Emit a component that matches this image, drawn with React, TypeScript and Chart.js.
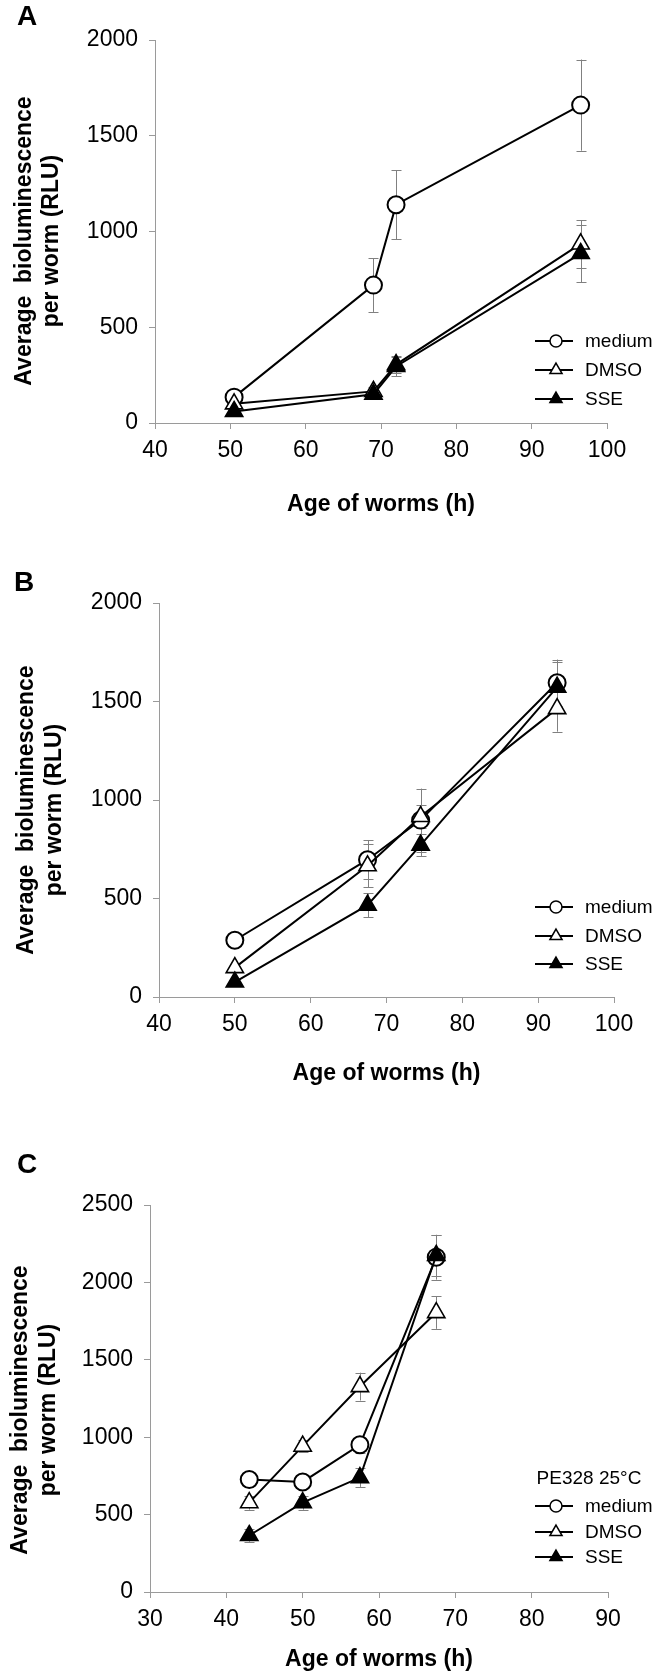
import React, { useEffect, useRef } from "react";
import { Chart, registerables } from "chart.js";

Chart.register(...registerables);

const FONT = "'Liberation Sans', Arial, Helvetica, sans-serif";
const AXIS_GREY = "#9a9a9a";
const ERR_GREY = "#808080";
const XAXIS_H = 40;
const WIDTH = 658;

const seriesNames = ["medium", "DMSO", "SSE"];

// ---------- Panel A ----------
const hoursA = [50.5, 69, 72, 96.5];
const mediumA = [135, 720, 1140, 1660];
const mediumErrA = [30, 140, 180, 238];
const dmsoA = [100, 165, 305, 935];
const dmsoErrA = [20, 25, 45, 125];
const sseA = [60, 150, 295, 885];
const sseErrA = [15, 20, 50, 150];
const xTicksA = [40, 50, 60, 70, 80, 90, 100];
const yTicksA = [0, 500, 1000, 1500, 2000];

// ---------- Panel B ----------
const hoursB = [50, 67.5, 74.5, 92.5];
const mediumB = [288, 697, 898, 1595];
const mediumErrB = [20, 100, 160, 118];
const dmsoB = [149, 666, 916, 1464];
const dmsoErrB = [20, 110, 60, 117];
const sseB = [76, 466, 771, 1573];
const sseErrB = [15, 60, 55, 127];
const xTicksB = [40, 50, 60, 70, 80, 90, 100];
const yTicksB = [0, 500, 1000, 1500, 2000];

// ---------- Panel C ----------
const hoursC = [43, 50, 57.5, 67.5];
const mediumC = [727, 711, 951, 2163];
const mediumErrC = [25, 30, 50, 145];
const dmsoC = [577, 942, 1327, 1805];
const dmsoErrC = [45, 40, 90, 105];
const sseC = [365, 577, 739, 2174];
const sseErrC = [40, 45, 60, 130];
const xTicksC = [30, 40, 50, 60, 70, 80, 90];
const yTicksC = [0, 500, 1000, 1500, 2000, 2500];

const xTitle = "Age of worms (h)";
const yTitleLines = ["Average  bioluminescence", "per worm (RLU)"];

type Panel = {
  letter: string;
  top: number;
  height: number;
  plot: { top: number; bottom: number; left: number; right: number };
  hours: number[];
  values: number[][];
  errors: number[][];
  xTicks: number[];
  yTicks: number[];
  letterPos: [number, number];
  yTitleX: [number, number];
  yTitleY: number;
  xTitleY: number;
  legendHeader?: { text: string; y: number };
  legendY: number[];
};

const panels: Panel[] = [
  {
    letter: "A",
    top: 0,
    height: 560,
    plot: { top: 40, bottom: 423, left: 155, right: 607 },
    hours: hoursA,
    values: [mediumA, dmsoA, sseA],
    errors: [mediumErrA, dmsoErrA, sseErrA],
    xTicks: xTicksA,
    yTicks: yTicksA,
    letterPos: [27, 17],
    yTitleX: [25, 52],
    yTitleY: 241,
    xTitleY: 505,
    legendY: [341, 370, 399],
  },
  {
    letter: "B",
    top: 560,
    height: 557,
    plot: { top: 43, bottom: 437, left: 159, right: 614 },
    hours: hoursB,
    values: [mediumB, dmsoB, sseB],
    errors: [mediumErrB, dmsoErrB, sseErrB],
    xTicks: xTicksB,
    yTicks: yTicksB,
    letterPos: [24, 23],
    yTitleX: [27, 55],
    yTitleY: 250,
    xTitleY: 514,
    legendY: [347, 376, 404],
  },
  {
    letter: "C",
    top: 1117,
    height: 560,
    plot: { top: 88, bottom: 475, left: 150, right: 608 },
    hours: hoursC,
    values: [mediumC, dmsoC, sseC],
    errors: [mediumErrC, dmsoErrC, sseErrC],
    xTicks: xTicksC,
    yTicks: yTicksC,
    letterPos: [27, 48],
    yTitleX: [21, 49],
    yTitleY: 293,
    xTitleY: 543,
    legendHeader: { text: "PE328 25°C", y: 362 },
    legendY: [389, 415, 440],
  },
];

const markerStyles = [
  { style: "circle", radius: 8.5, fill: "#ffffff", order: 3, bw: 2 },
  { style: "triangle", radius: 10, fill: "#ffffff", order: 2, bw: 1.6 },
  { style: "triangle", radius: 10, fill: "#000000", order: 1, bw: 1.6 },
];

function drawMarker(ctx: CanvasRenderingContext2D, kind: string, x: number, y: number, r: number, fill: string) {
  ctx.save();
  ctx.beginPath();
  if (kind === "circle") {
    ctx.arc(x, y, r, 0, Math.PI * 2);
  } else {
    for (let i = 0; i < 3; i++) {
      const a = (i * 2 * Math.PI) / 3;
      const px = x + Math.sin(a) * r;
      const py = y - Math.cos(a) * r;
      if (i === 0) ctx.moveTo(px, py);
      else ctx.lineTo(px, py);
    }
    ctx.closePath();
  }
  ctx.fillStyle = fill;
  ctx.fill();
  ctx.lineWidth = 1.5;
  ctx.strokeStyle = "#000";
  ctx.stroke();
  ctx.restore();
}

function makePlugin(p: Panel) {
  return {
    id: "panelDecor" + p.letter,
    beforeDatasetsDraw(chart: any) {
      const ctx: CanvasRenderingContext2D = chart.ctx;
      const xs = chart.scales.x;
      const ys = chart.scales.y;
      ctx.save();
      ctx.strokeStyle = ERR_GREY;
      ctx.lineWidth = 1;
      p.values.forEach((vals, si) => {
        vals.forEach((v, i) => {
          const e = p.errors[si][i];
          const x = Math.round(xs.getPixelForValue(p.hours[i])) + 0.5;
          const y1 = ys.getPixelForValue(v + e);
          const y2 = ys.getPixelForValue(Math.max(v - e, 0));
          ctx.beginPath();
          ctx.moveTo(x, y1);
          ctx.lineTo(x, y2);
          ctx.moveTo(x - 5, Math.round(y1) + 0.5);
          ctx.lineTo(x + 5, Math.round(y1) + 0.5);
          ctx.moveTo(x - 5, Math.round(y2) + 0.5);
          ctx.lineTo(x + 5, Math.round(y2) + 0.5);
          ctx.stroke();
        });
      });
      ctx.restore();
    },
    afterDraw(chart: any) {
      const ctx: CanvasRenderingContext2D = chart.ctx;
      const area = chart.chartArea;
      ctx.save();
      ctx.fillStyle = "#000";
      // panel letter
      ctx.font = `bold 28px ${FONT}`;
      ctx.textAlign = "center";
      ctx.textBaseline = "middle";
      ctx.fillText(p.letter, p.letterPos[0], p.letterPos[1]);
      // x title
      ctx.font = `bold 23px ${FONT}`;
      ctx.fillText(xTitle, (area.left + area.right) / 2, p.xTitleY);
      // y title
      yTitleLines.forEach((line, i) => {
        ctx.save();
        ctx.translate(p.yTitleX[i], p.yTitleY);
        ctx.rotate(-Math.PI / 2);
        ctx.fillText(line, 0, 0);
        ctx.restore();
      });
      // legend
      ctx.font = `19px ${FONT}`;
      if (p.legendHeader) {
        ctx.textAlign = "center";
        ctx.fillText(p.legendHeader.text, 589, p.legendHeader.y);
      }
      ctx.textAlign = "left";
      seriesNames.forEach((name, i) => {
        const y = p.legendY[i];
        ctx.beginPath();
        ctx.strokeStyle = "#000";
        ctx.lineWidth = 2;
        ctx.moveTo(535, y);
        ctx.lineTo(573, y);
        ctx.stroke();
        const m = markerStyles[i];
        drawMarker(ctx, m.style, 556, y, m.style === "circle" ? 6 : 7, m.fill);
        ctx.fillStyle = "#000";
        ctx.fillText(name, 585, y + 1);
      });
      ctx.restore();
    },
  };
}

function PanelChart({ p }: { p: Panel }) {
  const ref = useRef<HTMLCanvasElement | null>(null);
  useEffect(() => {
    if (!ref.current) return;
    const datasets = seriesNames.map((name, si) => {
      const m = markerStyles[si];
      return {
        label: name,
        data: p.hours.map((h, i) => ({ x: h, y: p.values[si][i] })),
        showLine: true,
        borderColor: "#000",
        borderWidth: 2,
        tension: 0,
        pointStyle: m.style,
        pointRadius: m.radius,
        pointBackgroundColor: m.fill,
        pointBorderColor: "#000",
        pointBorderWidth: m.bw,
        order: m.order,
      };
    });
    const xMin = p.xTicks[0];
    const xMax = p.xTicks[p.xTicks.length - 1];
    const yMin = p.yTicks[0];
    const yMax = p.yTicks[p.yTicks.length - 1];
    const tickFont = { family: FONT, size: 23 };
    const chart = new Chart(ref.current, {
      type: "scatter",
      data: { datasets: datasets as any },
      options: {
        responsive: false,
        animation: false,
        devicePixelRatio: 1,
        layout: {
          padding: {
            left: 0,
            top: p.plot.top,
            right: WIDTH - p.plot.right,
            bottom: p.height - p.plot.bottom - XAXIS_H,
          },
        },
        plugins: {
          legend: { display: false },
          tooltip: { enabled: false },
        },
        scales: {
          x: {
            type: "linear",
            min: xMin,
            max: xMax,
            offset: false,
            afterBuildTicks: (s: any) => {
              s.ticks = p.xTicks.map((v) => ({ value: v }));
            },
            afterFit: (s: any) => {
              s.height = XAXIS_H;
            },
            ticks: {
              color: "#000",
              font: tickFont,
              padding: 8,
              maxRotation: 0,
              autoSkip: false,
              callback: (v: any) => String(v),
            },
            grid: { display: true, drawOnChartArea: false, drawTicks: true, tickLength: 6, color: AXIS_GREY },
            border: { display: true, color: AXIS_GREY, width: 1 },
          },
          y: {
            type: "linear",
            min: yMin,
            max: yMax,
            afterBuildTicks: (s: any) => {
              s.ticks = p.yTicks.map((v) => ({ value: v }));
            },
            afterFit: (s: any) => {
              s.width = p.plot.left;
            },
            ticks: {
              color: "#000",
              font: tickFont,
              padding: 11,
              autoSkip: false,
              callback: (v: any) => String(v),
            },
            grid: { display: true, drawOnChartArea: false, drawTicks: true, tickLength: 6, color: AXIS_GREY },
            border: { display: true, color: AXIS_GREY, width: 1 },
          },
        },
      },
      plugins: [makePlugin(p)],
    } as any);
    return () => chart.destroy();
  }, [p]);
  return (
    <canvas
      ref={ref}
      width={WIDTH}
      height={p.height}
      style={{ position: "absolute", left: 0, top: p.top, width: WIDTH, height: p.height }}
    />
  );
}

export default function App() {
  return (
    <div style={{ position: "absolute", left: 0, top: 0, width: WIDTH, height: 1677, background: "#fff" }}>
      {panels.map((p) => (
        <PanelChart key={p.letter} p={p} />
      ))}
    </div>
  );
}
